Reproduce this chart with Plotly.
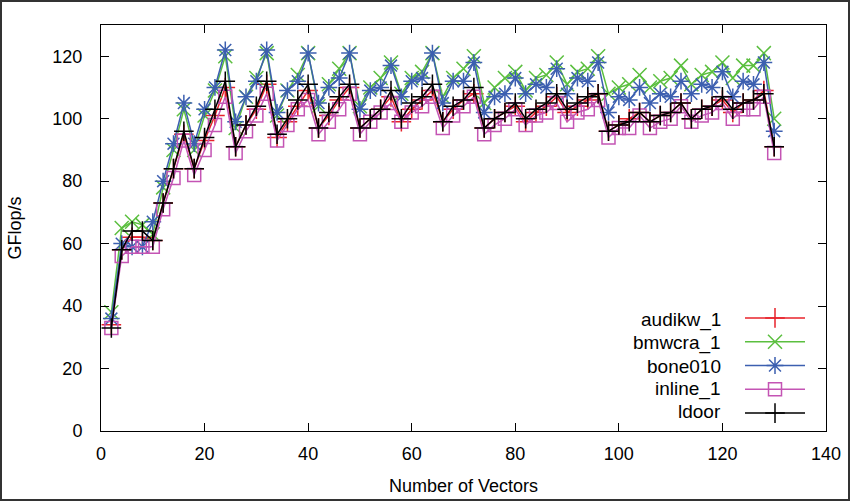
import plotly.graph_objects as go

# number of vectors (x) and GFlop/s per matrix
vectors = list(range(2, 131, 2))

audikw_1 = [34, 58, 62, 62, 61, 73, 84, 95, 84, 93, 101, 110, 91, 98, 103, 111,
            94, 99, 104, 109, 97, 101, 106, 110, 97, 100, 103, 107, 99, 103, 106, 109,
            99, 103, 106, 108, 97, 100, 102, 104, 99, 102, 104, 107, 102, 104, 106, 108,
            96, 98, 100, 102, 99, 101, 102, 105, 100, 103, 104, 106, 102, 105, 106, 109, 91]
bmwcra_1 = [38, 65, 67, 66, 63, 78, 90, 103, 90, 101, 109, 120, 97, 107, 113, 121,
            101, 109, 114, 121, 104, 111, 116, 121, 104, 110, 113, 118, 108, 113, 115, 121,
            107, 113, 116, 120, 105, 110, 113, 115, 109, 113, 114, 118, 111, 115, 116, 120,
            108, 110, 111, 114, 110, 112, 113, 117, 111, 114, 115, 118, 113, 117, 117, 121, 100]
bone010 = [36, 60, 59, 59, 67, 80, 92, 105, 92, 103, 110, 122, 99, 107, 112, 122,
           102, 109, 112, 121, 105, 110, 113, 121, 103, 109, 110, 117, 107, 112, 113, 121,
           105, 112, 112, 118, 102, 107, 108, 113, 108, 111, 110, 116, 108, 113, 112, 118,
           102, 107, 106, 110, 105, 108, 107, 112, 108, 111, 110, 115, 107, 112, 111, 118, 96]
inline_1 = [33, 56, 59, 59, 59, 71, 81, 93, 82, 90, 98, 107, 89, 96, 101, 108,
            93, 98, 103, 106, 95, 99, 103, 108, 95, 99, 102, 105, 99, 102, 104, 107,
            97, 101, 104, 107, 95, 98, 100, 103, 98, 101, 102, 105, 99, 102, 103, 106,
            94, 97, 97, 101, 97, 99, 100, 104, 99, 101, 102, 105, 100, 103, 103, 107, 89]
ldoor = [33, 58, 64, 64, 61, 73, 84, 96, 84, 94, 103, 112, 91, 98, 104, 112,
         95, 100, 106, 111, 97, 102, 107, 111, 97, 100, 103, 109, 100, 105, 107, 111,
         99, 104, 106, 110, 97, 100, 102, 105, 100, 103, 105, 108, 103, 105, 107, 108,
         96, 98, 99, 102, 99, 101, 102, 105, 100, 103, 104, 107, 103, 105, 106, 108, 91]

series = [
    ("audikw_1", audikw_1, "#e8232b", "cross-thin-open", 14),
    ("bmwcra_1", bmwcra_1, "#5bbf3f", "x-thin-open", 14),
    ("bone010", bone010, "#3c5fb0", "asterisk-open", 14),
    ("inline_1", inline_1, "#c454b4", "square-open", 13),
    ("ldoor", ldoor, "#000000", "cross-thin-open", 14),
]

FONT = "Liberation Sans, Arial, Helvetica, sans-serif"
W, H = 850, 502
ML, MR, MT, MB = 101, 24, 25, 71
pw, ph = W - ML - MR, H - MT - MB

fig = go.Figure()
for name, vals, color, sym, size in series:
    fig.add_trace(go.Scatter(
        x=vectors, y=vals, name=" ", mode="lines+markers",
        line=dict(color=color, width=1.5),
        marker=dict(symbol=sym, size=size, color=color, line=dict(color=color, width=1.5)),
    ))

# legend labels sit left of the samples (gnuplot style)
row_y = [320, 343, 366, 389, 411]
for (name, *_), py in zip(series, row_y):
    fig.add_annotation(text=name, xref="paper", yref="paper",
                       x=(723 - ML) / pw, y=(H - MB - py) / ph,
                       xanchor="right", yanchor="middle", showarrow=False,
                       font=dict(size=19, color="black", family=FONT))

axis_style = dict(showline=True, linecolor="black", linewidth=1, mirror="allticks",
                  ticks="inside", ticklen=8, tickcolor="black", showgrid=False,
                  zeroline=False, automargin=False,
                  tickfont=dict(size=18, color="black", family=FONT))

fig.update_xaxes(range=[0, 140], dtick=20, ticklabelstandoff=6,
                 title=dict(text="Number of Vectors", standoff=16,
                            font=dict(size=18, color="black", family=FONT)), **axis_style)
fig.update_yaxes(range=[0, 130], dtick=20, ticklabelstandoff=14,
                 title=dict(text="GFlop/s", standoff=26,
                            font=dict(size=18, color="black", family=FONT)), **axis_style)

# outer frame around the whole picture
fig.add_shape(type="rect", xref="paper", yref="paper",
              x0=-(ML - 1) / pw, x1=1 + (MR - 1) / pw,
              y0=-(MB - 2) / ph, y1=1 + (MT - 1) / ph,
              line=dict(color="#333333", width=2))

fig.update_layout(
    width=W, height=H,
    margin=dict(l=ML, r=MR, t=MT, b=MB, autoexpand=False),
    plot_bgcolor="white", paper_bgcolor="white",
    font=dict(family=FONT, color="black"),
    legend=dict(x=(820 - ML) / pw, xanchor="right", y=(H - MB - 430) / ph, yanchor="bottom",
                bgcolor="rgba(0,0,0,0)", itemwidth=60, font=dict(size=16),
                tracegroupgap=0),
)

fig.write_html("out.html", config={"displayModeBar": False},
               post_script="document.body.style.margin='0';")
